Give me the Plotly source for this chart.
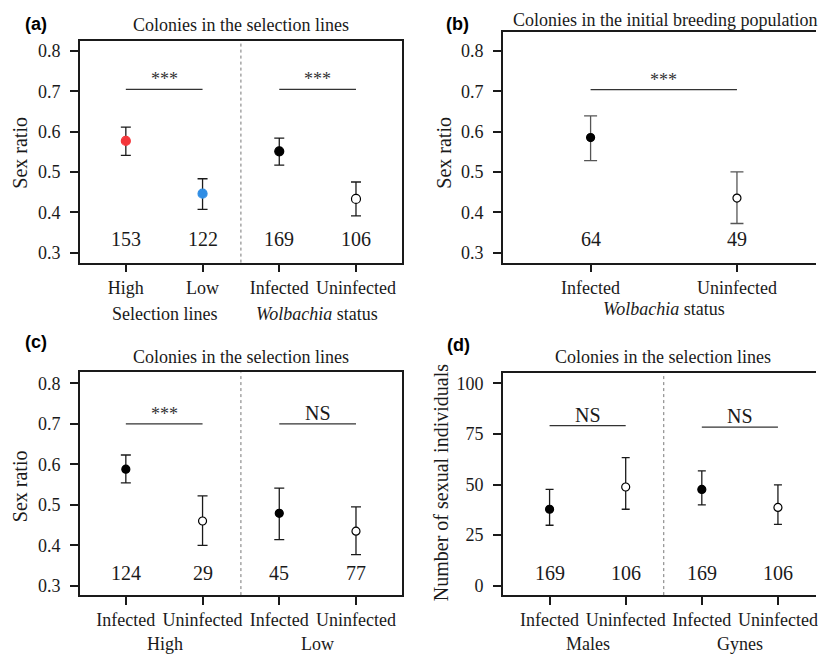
import plotly.graph_objects as go

W, H = 818, 654

# ---------------- data ----------------
a_cats = ["High", "Low", "Infected", "Uninfected"]
a_mean = [0.577, 0.446, 0.551, 0.433]
a_upper = [0.611, 0.483, 0.584, 0.475]
a_lower = [0.541, 0.407, 0.517, 0.391]
a_n = [153, 122, 169, 106]
a_groups = ["Selection lines", "<i>Wolbachia</i> status"]

b_cats = ["Infected", "Uninfected"]
b_mean = [0.585, 0.435]
b_upper = [0.639, 0.500]
b_lower = [0.528, 0.372]
b_n = [64, 49]

c_cats = ["Infected", "Uninfected", "Infected", "Uninfected"]
c_mean = [0.588, 0.460, 0.479, 0.435]
c_upper = [0.623, 0.522, 0.541, 0.495]
c_lower = [0.554, 0.400, 0.414, 0.377]
c_n = [124, 29, 45, 77]
c_groups = ["High", "Low"]

d_cats = ["Infected", "Uninfected", "Infected", "Uninfected"]
d_mean = [37.8, 48.8, 47.6, 38.7]
d_upper = [47.6, 63.3, 56.8, 49.8]
d_lower = [29.9, 37.8, 40.0, 30.3]
d_n = [169, 106, 169, 106]
d_groups = ["Males", "Gynes"]

sr_ticks = [0.3, 0.4, 0.5, 0.6, 0.7, 0.8]
num_ticks = [0, 25, 50, 75, 100]

a_sig = [(1, 2, 0.705, "***"), (3, 4, 0.705, "***")]
b_sig = [(1, 2, 0.704, "***")]
c_sig = [(1, 2, 0.700, "***"), (3, 4, 0.700, "NS")]
d_sig = [(1, 2, 79.1, "NS"), (3, 4, 78.4, "NS")]

# ---------------- styles ----------------
SERIF = "Liberation Serif"
SANS = "Liberation Sans"
INK = "#1a1a1a"
RED = "#f4363b"
BLUE = "#2f8de4"


def px_x(x):
    return x / W


def px_y(y):
    return 1 - y / H


fig = go.Figure()

panels = {
    "a": dict(xa="x", ya="y", dom_x=(80, 403), dom_y=(41, 263), xr=[0.4, 4.6], yr=[0.275, 0.825]),
    "b": dict(xa="x2", ya="y2", dom_x=(504, 818), dom_y=(32, 263), xr=[0.4, 2.54], yr=[0.275, 0.847]),
    "c": dict(xa="x3", ya="y3", dom_x=(80, 403), dom_y=(373, 596), xr=[0.4, 4.6], yr=[0.277, 0.827]),
    "d": dict(xa="x4", ya="y4", dom_x=(504, 818), dom_y=(374, 596), xr=[0.385, 4.5], yr=[-4.6, 104.9]),
}


def add_points(p, means, uppers, lowers, fills, lines, capw, ecolor, size):
    xs = list(range(1, len(means) + 1))
    fig.add_trace(go.Scatter(
        x=xs, y=means, mode="markers",
        xaxis=p["xa"], yaxis=p["ya"],
        error_y=dict(type="data", symmetric=False,
                     array=[u - m for u, m in zip(uppers, means)],
                     arrayminus=[m - l for m, l in zip(means, lowers)],
                     color=ecolor, thickness=1.3, width=capw),
        marker=dict(size=size, color=fills, line=dict(color=lines, width=1.2)),
        showlegend=False, hoverinfo="skip"))


pa, pb, pc, pd_ = panels["a"], panels["b"], panels["c"], panels["d"]
add_points(pa, a_mean, a_upper, a_lower, [RED, BLUE, "black", "white"],
           [RED, BLUE, "black", "black"], 5, INK, 9)
add_points(pb, b_mean, b_upper, b_lower, ["black", "white"], ["black", "black"], 6.5, "#555555", 8)
add_points(pc, c_mean, c_upper, c_lower, ["black", "white", "black", "white"], ["black"] * 4, 5, INK, 8)
add_points(pd_, d_mean, d_upper, d_lower, ["black", "white", "black", "white"], ["black"] * 4, 4, INK, 8)

annotations = []
shapes = []


def sig(p, items):
    for x0, x1, y, txt in items:
        shapes.append(dict(type="line", xref=p["xa"], yref=p["ya"], x0=x0, x1=x1, y0=y, y1=y,
                           line=dict(color="#333333", width=1.3)))
        if txt == "***":
            annotations.append(dict(x=(x0 + x1) / 2, y=y, xref=p["xa"], yref=p["ya"], text=txt,
                                    showarrow=False, yanchor="bottom", yshift=-2,
                                    font=dict(family=SERIF, size=18, color="#333333")))
        else:
            annotations.append(dict(x=(x0 + x1) / 2, y=y, xref=p["xa"], yref=p["ya"], text=txt,
                                    showarrow=False, yanchor="bottom", yshift=-2,
                                    font=dict(family=SERIF, size=20, color=INK)))


sig(pa, a_sig)
sig(pb, b_sig)
sig(pc, c_sig)
sig(pd_, d_sig)


def nlabels(p, ns, y):
    for i, n in enumerate(ns):
        annotations.append(dict(x=i + 1, y=y, xref=p["xa"], yref=p["ya"], text=str(n),
                                showarrow=False, yanchor="middle",
                                font=dict(family=SERIF, size=20, color=INK)))


nlabels(pa, a_n, 0.333)
nlabels(pb, b_n, 0.333)
nlabels(pc, c_n, 0.331)
nlabels(pd_, d_n, 6.3)

# dividers
for p in (pa, pc, pd_):
    shapes.append(dict(type="line", xref=p["xa"], yref=p["ya"] + " domain", x0=2.5, x1=2.5, y0=0, y1=1,
                       line=dict(color="#777777", width=1, dash="dot")))


def ptext(x, y, text, size, family=SERIF, anchor="center"):
    annotations.append(dict(x=px_x(x), y=px_y(y), xref="paper", yref="paper", text=text,
                            showarrow=False, xanchor=anchor, yanchor="middle",
                            font=dict(family=family, size=size, color=INK)))


def rtext(x, y, text, size):
    annotations.append(dict(x=px_x(x), y=px_y(y), xref="paper", yref="paper", text=text,
                            showarrow=False, xanchor="center", yanchor="middle", textangle=-90,
                            font=dict(family=SERIF, size=size, color=INK)))


# panel labels
for lab, x, y in [("(a)", 36, 24), ("(b)", 459, 24), ("(c)", 36, 343), ("(d)", 460, 346)]:
    annotations.append(dict(x=px_x(x), y=px_y(y), xref="paper", yref="paper", text="<b>%s</b>" % lab,
                            showarrow=False, xanchor="center", yanchor="middle",
                            font=dict(family=SANS, size=18, color="black")))

# titles
ptext(242, 25, "Colonies in the selection lines", 18)
ptext(512, 20, "Colonies in the initial breeding population", 18, anchor="left")
ptext(242, 358, "Colonies in the selection lines", 18)
ptext(665, 358, "Colonies in the selection lines", 18)

# y titles
rtext(20, 153, "Sex ratio", 20)
rtext(445, 153, "Sex ratio", 20)
rtext(20, 487, "Sex ratio", 20)
rtext(442, 483, "Number of sexual individuals", 20)

# group labels
ptext(165, 314, a_groups[0], 18)
ptext(318, 314, a_groups[1], 18)
ptext(666, 309, "<i>Wolbachia</i> status", 18)
ptext(165, 645, c_groups[0], 18)
ptext(318, 645, c_groups[1], 18)
ptext(589, 645, d_groups[0], 18)
ptext(742, 645, d_groups[1], 18)

axis_common = dict(showgrid=False, zeroline=False, showline=True, linecolor=INK, linewidth=1.5,
                   ticks="outside", ticklen=8, tickwidth=1.5, tickcolor=INK, fixedrange=True)

layout = dict(width=W, height=H, margin=dict(l=0, r=0, t=0, b=0),
              paper_bgcolor="white", plot_bgcolor="white",
              font=dict(family=SERIF, size=18, color=INK),
              annotations=annotations, shapes=shapes, showlegend=False)

cats = {"a": a_cats, "b": b_cats, "c": c_cats, "d": d_cats}
for key, idx in zip("abcd", ["", "2", "3", "4"]):
    p = panels[key]
    mirror_y = key in ("a", "c")
    ytv = num_ticks if key == "d" else sr_ticks
    ytt = [str(v) for v in ytv] if key == "d" else ["%.1f" % v for v in ytv]
    layout["xaxis" + idx] = dict(axis_common, domain=[px_x(p["dom_x"][0]), px_x(p["dom_x"][1])],
                                 range=p["xr"], anchor="y" + idx, mirror=True,
                                 tickvals=list(range(1, len(cats[key]) + 1)), ticktext=cats[key],
                                 ticklabelstandoff=0, ticklabeloverflow="allow",
                                 tickfont=dict(family=SERIF, size=18, color=INK))
    layout["yaxis" + idx] = dict(axis_common, domain=[px_y(p["dom_y"][1]), px_y(p["dom_y"][0])],
                                 range=p["yr"], anchor="x" + idx, mirror=mirror_y,
                                 tickvals=ytv, ticktext=ytt, ticklabelstandoff=6,
                                 tickfont=dict(family=SERIF, size=18, color=INK))

fig.update_layout(**layout)
fig.write_html("out.html", config={"displayModeBar": False},
               post_script="document.body.style.margin='0';document.body.style.overflow='hidden';")
